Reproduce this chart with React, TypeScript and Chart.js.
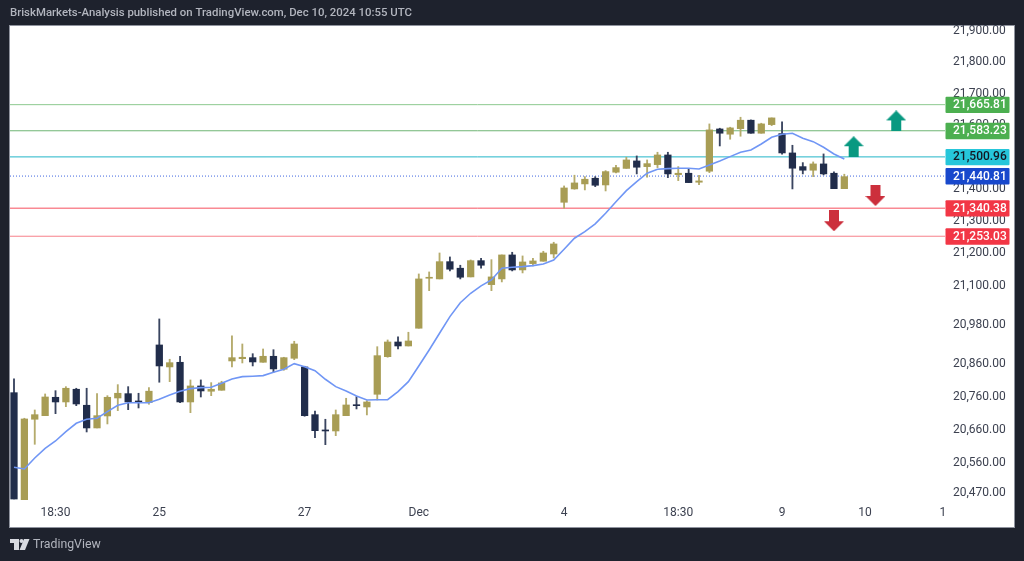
import React, { useEffect, useRef } from "react";
import { Chart, registerables } from "chart.js";

Chart.register(...registerables);

const titleText = "BriskMarkets-Analysis published on TradingView.com, Dec 10, 2024 10:55 UTC";
const brandText = "TradingView";

const opens = [20772.5,20445,20691.9,20702.8,20758.5,20744.3,20782.9,20734.3,20665.6,20701.9,20756.4,20769.5,20746.4,20742.1,20917.9,20850.8,20865,20744.3,20792.9,20776.8,20779.8,20869,20876,20879.1,20865,20883.3,20843.8,20877.2,20850.8,20705.8,20659.6,20656.5,20702.8,20735.2,20729.1,20767.6,20882.1,20927,20914.8,20969.1,21122.9,21120.8,21174.2,21153.9,21127,21177.3,21103.2,21120.8,21195,21148.6,21168.1,21175.5,21198,21358.8,21400.5,21416.2,21434,21413,21452.9,21464.8,21488.3,21470.4,21476.7,21507.1,21445.3,21449.7,21421.5,21456,21589,21572.4,21590,21616.6,21575.5,21602.7,21574.3,21513.4,21470.4,21459.1,21478.9,21449.7,21401.4];
const highs = [20814.2,20695,20720,20768.6,20778.6,20790.8,20785.9,20785.9,20770,20763.4,20796.9,20790.8,20770.7,20787.9,20997.6,20874.2,20883.3,20811.2,20811.2,20803,20807.2,20945.5,20920.9,20891.2,20905.6,20903.4,20880.3,20929.2,20852.9,20717,20691.9,20720,20755.5,20760.5,20748.2,20912.6,20933.2,20942.4,20956.8,21136.2,21142.4,21201.1,21188.8,21163.1,21179.5,21184.8,21180.4,21195,21203.3,21191.9,21184.8,21206.4,21234.4,21409.9,21443.5,21439,21439,21457.9,21474.8,21499.9,21504,21491.4,21515.6,21515.6,21470.4,21462.3,21443.5,21604.9,21591.3,21594.5,21626,21617.5,21607.1,21623.9,21611.2,21537.6,21483,21485.2,21510.3,21453.8,21446.6];
const lows = [20452,20445,20616.3,20702.8,20708.9,20730,20733,20653.5,20665.6,20677.7,20718,20721,20726.1,20737.3,20804.2,20806,20742.1,20711.9,20759.4,20763.4,20779.8,20850.8,20862.9,20853.8,20865,20834.6,20840.7,20873,20701,20636.3,20615.1,20642.3,20702.8,20723.1,20705,20750.3,20880.3,20905.6,20914.8,20969.1,21084.6,21120.8,21145.5,21120.8,21127,21153.9,21084.6,21111.5,21145.5,21139.3,21161,21175.5,21185.7,21340.2,21399.6,21397.4,21407.7,21394.2,21450.7,21464.8,21447.5,21437.2,21467.3,21435.9,21426.5,21420.3,21414,21451.6,21535.4,21556.6,21566,21575.5,21575.5,21599.5,21509.3,21400.5,21447.5,21439,21444.4,21401.4,21401.4];
const closes = [20452,20692.8,20705.8,20759.4,20744.3,20785.9,20738.2,20665.6,20702.8,20758.5,20770.7,20744.3,20744.3,20777,20853.8,20863.8,20744.3,20792.9,20777.7,20782.9,20802.1,20879.1,20880.3,20866,20883.3,20844.7,20879.1,20920.9,20702.8,20657.5,20656.5,20705.8,20735.2,20733,20744.3,20885.2,20927,20914.8,20930.1,21120.8,21124.8,21174.2,21150.8,21126,21177.3,21163.1,21127,21195,21148.6,21173.3,21176.4,21201.1,21229.1,21403.6,21419.3,21430.9,21412,21454.8,21467.3,21491.4,21468.5,21479.8,21507.1,21447.5,21449.7,21420.3,21425.6,21586,21575.5,21592.3,21616.6,21575.5,21604.9,21623.9,21513.4,21465.4,21459.1,21478.9,21447.5,21401.4,21439];
const maValues = [20547.2,20542.1,20575.1,20604.1,20626.3,20654.4,20679.8,20691.9,20695,20714.9,20734.3,20742.1,20742.1,20742.1,20752.4,20765.5,20776.8,20784.7,20787.7,20789,20801.1,20814.2,20821.2,20822.4,20824.3,20834.6,20843.8,20860.8,20851.7,20839.5,20813.3,20790.8,20777.7,20762.5,20750.3,20751.2,20751.2,20775.6,20806,20853.8,20902.5,20953.7,21004.7,21047.6,21076.6,21099.2,21117.7,21153.9,21156.9,21158.8,21161.9,21167.1,21179.5,21212.6,21246.8,21267.3,21291.3,21324.6,21360.7,21395.2,21423.4,21449.7,21462.3,21464.2,21465.4,21465.4,21463.2,21475.8,21488.3,21501.8,21515.6,21522.8,21541.7,21562.9,21572.4,21575.5,21559.8,21549,21531.3,21510.3,21494.6];

const levelValues = [21665.81, 21583.23, 21500.96, 21440.81, 21340.38, 21253.03];
const levelLabels = ["21,665.81", "21,583.23", "21,500.96", "21,440.81", "21,340.38", "21,253.03"];
const levelLineColors = ["#8cc98f", "#6fb574", "#22b5c8", "#3f66e0", "#f6505e", "#f7808a"];
const levelTagColors = ["#4caf50", "#4caf50", "#26c6da", "#1848cc", "#f23645", "#f23645"];
const levelTextColors = ["#ffffff", "#ffffff", "#131722", "#ffffff", "#ffffff", "#ffffff"];

const yTickValues = [21900, 21800, 21700, 21600, 21500, 21400, 21300, 21200, 21100, 20980, 20860, 20760, 20660, 20560, 20470];
const xTickValues = [4, 14, 28, 39, 53, 64, 74, 82, 89.5];
const xTickLabels = ["18:30", "25", "27", "Dec", "4", "18:30", "9", "10", "1"];

const upArrowX = [80.9, 85];
const upArrowY = [21533, 21614.4];
const downArrowX = [83, 79];
const downArrowY = [21380.1, 21301.3];

const X_MIN = -0.385;
const X_MAX = 89.7;
const Y_MIN = 20449.1;
const Y_MAX = 21916.5;

const UP = "#a89d55";
const DOWN = "#212d4b";
const PAGE = "#1e222d";
const FONT = "Roboto, sans-serif";

function arrowImage(color: string, up: boolean) {
  const c = document.createElement("canvas");
  c.width = 20;
  c.height = 21;
  const g = c.getContext("2d")!;
  g.fillStyle = color;
  g.beginPath();
  if (up) {
    g.moveTo(10, 0); g.lineTo(20, 10); g.lineTo(15, 10); g.lineTo(15, 21);
    g.lineTo(5, 21); g.lineTo(5, 10); g.lineTo(0, 10);
  } else {
    g.moveTo(5, 0); g.lineTo(15, 0); g.lineTo(15, 11); g.lineTo(20, 11);
    g.lineTo(10, 21); g.lineTo(0, 11); g.lineTo(5, 11);
  }
  g.closePath();
  g.fill();
  return c;
}

const framePlugin = {
  id: "frame",
  beforeDraw(chart: any) {
    const { ctx, width, height } = chart;
    ctx.save();
    ctx.fillStyle = PAGE;
    ctx.fillRect(0, 0, width, height);
    ctx.fillStyle = "#ffffff";
    ctx.fillRect(10, 26, 1004, 501);
    ctx.strokeStyle = "#8f939e";
    ctx.lineWidth = 1;
    ctx.strokeRect(9.5, 25.5, 1005, 502);
    ctx.restore();
  },
  afterDraw(chart: any) {
    const { ctx } = chart;
    const y = chart.scales.y;
    const left = chart.chartArea.right + 0.5;
    ctx.save();
    levelValues.forEach((v, i) => {
      const py = y.getPixelForValue(v);
      ctx.fillStyle = levelTagColors[i];
      ctx.beginPath();
      ctx.roundRect(left, py - 8, 64, 16.4, 1);
      ctx.fill();
      ctx.fillStyle = levelTextColors[i];
      ctx.font = `500 12px ${FONT}`;
      ctx.textAlign = "left";
      ctx.textBaseline = "middle";
      ctx.fillText(levelLabels[i], left + 7.5, py + 0.5);
    });
    // brand mark and name in the bottom strip
    ctx.fillStyle = "#d8dae0";
    ctx.fillRect(10, 539, 9, 4);
    ctx.fillRect(14, 539, 5, 11);
    ctx.beginPath();
    ctx.arc(21.5, 541, 2, 0, Math.PI * 2);
    ctx.fill();
    ctx.beginPath();
    ctx.moveTo(24, 539); ctx.lineTo(29.5, 539); ctx.lineTo(25, 550); ctx.lineTo(19.5, 550);
    ctx.closePath();
    ctx.fill();
    ctx.fillStyle = "#b2b5be";
    ctx.font = `12.3px ${FONT}`;
    ctx.textAlign = "left";
    ctx.textBaseline = "middle";
    ctx.fillText(brandText, 33, 544.5);
    ctx.restore();
  },
};

export default function App() {
  const ref = useRef<HTMLCanvasElement>(null);
  useEffect(() => {
    if (!ref.current) return;
    const barColors = opens.map((o, i) => (closes[i] >= o ? UP : DOWN));
    const wickColors = opens.map((o, i) => (closes[i] >= o ? "#b5ab6c" : "#3a4560"));
    const levelSets = levelValues.map((v, i) => ({
      type: "line" as const,
      data: [{ x: X_MIN, y: v }, { x: X_MAX, y: v }],
      borderColor: levelLineColors[i],
      borderWidth: 1,
      borderDash: i === 3 ? [1, 2] : [],
      pointRadius: 0,
      order: 6,
    }));
    const chart = new Chart(ref.current, {
      type: "bar",
      plugins: [framePlugin],
      data: {
        datasets: [
          {
            type: "scatter" as const,
            data: upArrowX.map((x, i) => ({ x, y: upArrowY[i] })),
            pointStyle: arrowImage("#089981", true),
            order: 0,
          },
          {
            type: "scatter" as const,
            data: downArrowX.map((x, i) => ({ x, y: downArrowY[i] })),
            pointStyle: arrowImage("#cc2f3c", false),
            order: 0,
          },
          {
            type: "line" as const,
            data: maValues.map((y, x) => ({ x, y })),
            borderColor: "#7096f5",
            borderWidth: 1.6,
            pointRadius: 0,
            tension: 0,
            order: 1,
          },
          {
            data: opens.map((o, x) => ({ x, y: [o, closes[x]] })),
            backgroundColor: barColors,
            barThickness: 6.6,
            minBarLength: 1,
            grouped: false,
            order: 2,
          },
          {
            data: opens.map((_, x) => ({ x, y: [lows[x], highs[x]] })),
            backgroundColor: wickColors,
            barThickness: 1.2,
            grouped: false,
            order: 3,
          },
          ...levelSets,
        ] as any,
      },
      options: {
        responsive: false,
        animation: false,
        events: [],
        layout: { autoPadding: false, padding: { left: 10, right: 10, top: 6, bottom: 35 } },
        plugins: {
          legend: { display: false },
          tooltip: { enabled: false },
          title: {
            display: true,
            text: titleText,
            align: "start",
            color: "#b2b5be",
            font: { family: FONT, size: 11.4, weight: "500", lineHeight: 1.26 },
            padding: { top: 0, bottom: 5.6 },
          },
        },
        scales: {
          x: {
            type: "linear",
            offset: false,
            min: X_MIN,
            max: X_MAX,
            grid: { display: false, drawTicks: false, offset: false },
            border: { display: false },
            afterBuildTicks: (s: any) => {
              s.ticks = xTickValues.map((value) => ({ value }));
            },
            afterFit: (s: any) => {
              s.height = 26;
            },
            ticks: {
              autoSkip: false,
              maxRotation: 0,
              padding: 6,
              color: "#3c4150",
              font: { family: FONT, size: 12 },
              callback: (v: any) => xTickLabels[xTickValues.indexOf(Number(v))] ?? "",
            },
          },
          y: {
            type: "logarithmic",
            position: "right",
            min: Y_MIN,
            max: Y_MAX,
            grid: { display: false, drawTicks: false },
            border: { display: false },
            afterBuildTicks: (s: any) => {
              s.ticks = yTickValues.map((value) => ({ value }));
            },
            afterFit: (s: any) => {
              s.width = 69;
            },
            ticks: {
              autoSkip: false,
              padding: 8,
              color: "#3c4150",
              font: { family: FONT, size: 12 },
              callback: (v: any) => Number(v).toLocaleString("en-US", { minimumFractionDigits: 2 }),
            },
          },
        },
      } as any,
    });
    return () => chart.destroy();
  }, []);
  return (
    <div style={{ position: "fixed", inset: 0, background: PAGE }}>
      <canvas ref={ref} width={1024} height={561} style={{ display: "block" }} />
    </div>
  );
}
